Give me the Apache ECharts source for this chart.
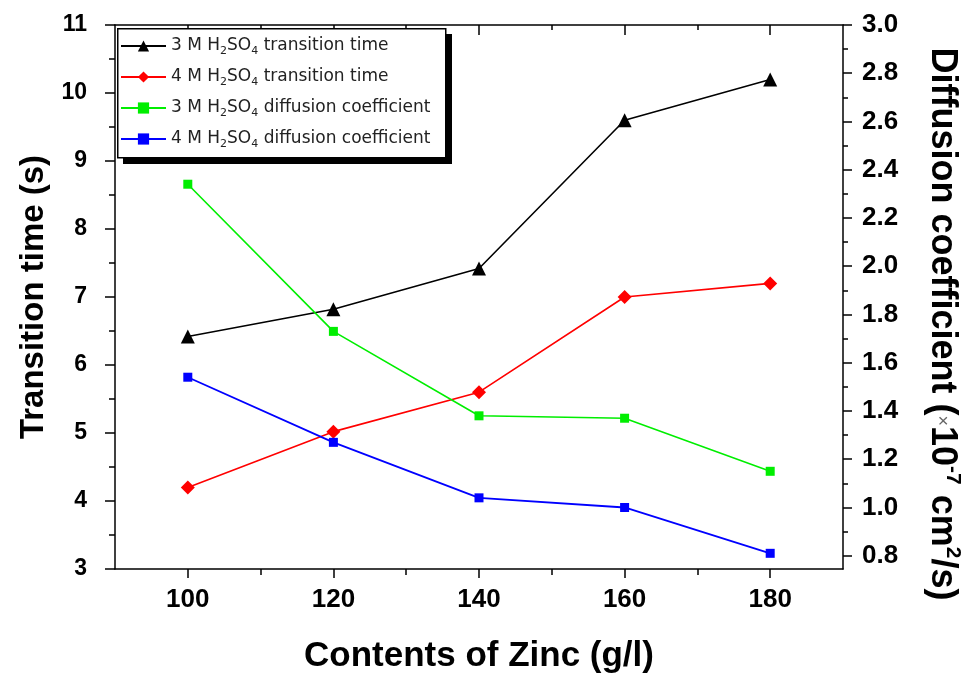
<!DOCTYPE html>
<html>
<head>
<meta charset="utf-8">
<script src="https://cdn.jsdelivr.net/npm/echarts@6/dist/echarts.min.js"></script>
<style>
  html, body { margin: 0; padding: 0; background: #fff; }
  #chart { width: 971px; height: 679px; }
</style>
</head>
<body>
<div id="chart"></div>
<script>
// Zinc content (g/l)
const zinc = [100, 120, 140, 160, 180];
// transition time (s), left axis
const time3M = [6.42, 6.82, 7.42, 9.6, 10.2];
const time4M = [4.2, 5.02, 5.6, 7.0, 7.2];
// diffusion coefficient (x10^-7 cm2/s), right axis
const diff3M = [2.34, 1.73, 1.38, 1.37, 1.15];
const diff4M = [1.54, 1.27, 1.04, 1.0, 0.81];

const xMajor = [100, 120, 140, 160, 180];
const xMinor = [110, 130, 150, 170];
const leftMinor = [3.5, 4.5, 5.5, 6.5, 7.5, 8.5, 9.5, 10.5];
const rightMajor = [0.8, 1.0, 1.2, 1.4, 1.6, 1.8, 2.0, 2.2, 2.4, 2.6, 2.8, 3.0];
const rightMinor = [0.9, 1.1, 1.3, 1.5, 1.7, 1.9, 2.1, 2.3, 2.5, 2.7, 2.9];

const FONT = "Liberation Sans, Arial, sans-serif";
const pairs = (ys) => zinc.map((x, i) => [x, ys[i]]);

const chart = echarts.init(document.getElementById("chart"), null, { renderer: "canvas" });

const axisLine = { show: true, lineStyle: { color: "#000", width: 1.5 } };
const tickStyle = { color: "#000", width: 1.5 };

// extra axes that only carry minor ticks
function minorAxis(base, values, length, inside) {
    return Object.assign({}, base, {
        axisLine: { show: false },
        axisLabel: { show: false },
        splitLine: { show: false },
        name: "",
        axisTick: { show: true, inside: !!inside, length: length, lineStyle: tickStyle, customValues: values },
    });
}

const xBase = { type: "value", min: 90, max: 190 };
const leftBase = { type: "value", min: 3, max: 11, position: "left" };
const rightBase = { type: "value", min: 0.745, max: 3.0, position: "right" };

const option = {
    backgroundColor: "#fff",
    animation: false,
    grid: { left: 115, right: 121, top: 25, bottom: 108, containLabel: false },

    // legend frame with the solid drop shadow (Origin style)
    graphic: [
        { type: "rect", left: 123, top: 34, z: 1, shape: { width: 329, height: 130 }, style: { fill: "#000" } },
        { type: "rect", left: 117, top: 28, z: 2, shape: { width: 328, height: 129 }, style: { fill: "#fff", stroke: "#000", lineWidth: 1.5 } },
    ],

    legend: {
        orient: "vertical",
        left: 117,
        top: 28,
        z: 10,
        padding: [7, 6, 10, 3],
        itemWidth: 45,
        itemHeight: 14,
        itemGap: 9,
        data: [
            "3 M H2SO4 transition time",
            "4 M H2SO4 transition time",
            "3 M H2SO4 diffusion coefficient",
            "4 M H2SO4 diffusion coefficient",
        ],
        formatter: (name) => name.replace("H2SO4", "H{s|2}SO{s|4}"),
        textStyle: {
            fontFamily: "DejaVu Sans, sans-serif",
            fontSize: 17,
            color: "#222",
            lineHeight: 22,
            rich: {
                s: { fontFamily: "DejaVu Sans, sans-serif", fontSize: 11, color: "#222", lineHeight: 10, verticalAlign: "bottom" },
            },
        },
    },

    xAxis: [
        Object.assign({}, xBase, {
            position: "bottom",
            name: "Contents of Zinc (g/l)",
            nameLocation: "middle",
            nameGap: 70,
            nameTextStyle: { fontFamily: FONT, fontWeight: "bold", fontSize: 35, color: "#000" },
            axisLine: axisLine,
            axisTick: { show: true, length: 9, lineStyle: tickStyle, customValues: xMajor },
            axisLabel: {
                customValues: xMajor,
                margin: 18,
                fontFamily: FONT,
                fontWeight: "bold",
                fontSize: 26,
                color: "#000",
            },
            splitLine: { show: false },
        }),
        minorAxis(Object.assign({}, xBase, { position: "bottom" }), xMinor, 6, false),
        Object.assign({}, xBase, {
            position: "top",
            axisLine: axisLine,
            axisLabel: { show: false },
            splitLine: { show: false },
            axisTick: { show: true, inside: true, length: 10, lineStyle: tickStyle, customValues: xMajor },
        }),
        minorAxis(Object.assign({}, xBase, { position: "top" }), xMinor, 5, true),
    ],

    yAxis: [
        Object.assign({}, leftBase, {
            interval: 1,
            name: "Transition time (s)",
            nameLocation: "middle",
            nameRotate: 90,
            nameGap: 59,
            nameTextStyle: { fontFamily: FONT, fontWeight: "bold", fontSize: 33, color: "#000" },
            axisLine: axisLine,
            axisTick: { show: true, length: 10, lineStyle: tickStyle },
            axisLabel: { margin: 28, fontFamily: FONT, fontWeight: "bold", fontSize: 23, color: "#000" },
            splitLine: { show: false },
        }),
        Object.assign({}, rightBase, {
            name: "{a|Diffusion coefficient (}{x|×}{a|10}{u|-7}{a| cm}{u|2}{a|/s)}",
            nameLocation: "middle",
            nameRotate: -90,
            nameGap: 78,
            nameTextStyle: {
                padding: [0, 0, 0, 54],
                rich: {
                    a: { fontFamily: FONT, fontWeight: "bold", fontSize: 36, color: "#000", lineHeight: 42 },
                    x: { fontFamily: FONT, fontSize: 18, color: "#666", lineHeight: 42 },
                    u: { fontFamily: FONT, fontWeight: "bold", fontSize: 21, color: "#000", lineHeight: 22, verticalAlign: "top" },
                },
            },
            axisLine: axisLine,
            axisTick: { show: true, length: 9, lineStyle: tickStyle, customValues: rightMajor },
            axisLabel: {
                customValues: rightMajor,
                margin: 19,
                formatter: (v) => v.toFixed(1),
                fontFamily: FONT,
                fontWeight: "bold",
                fontSize: 26,
                color: "#000",
            },
            splitLine: { show: false },
        }),
        minorAxis(leftBase, leftMinor, 6, false),
        minorAxis(rightBase, rightMinor, 5, false),
    ],

    series: [
        {
            name: "3 M H2SO4 transition time",
            type: "line",
            xAxisIndex: 0,
            yAxisIndex: 0,
            data: pairs(time3M),
            symbol: "triangle",
            symbolSize: 14,
            lineStyle: { color: "#000", width: 1.6 },
            itemStyle: { color: "#000" },
        },
        {
            name: "4 M H2SO4 transition time",
            type: "line",
            xAxisIndex: 0,
            yAxisIndex: 0,
            data: pairs(time4M),
            symbol: "diamond",
            symbolSize: 14,
            lineStyle: { color: "#ff0000", width: 1.6 },
            itemStyle: { color: "#ff0000" },
        },
        {
            name: "3 M H2SO4 diffusion coefficient",
            type: "line",
            xAxisIndex: 0,
            yAxisIndex: 1,
            data: pairs(diff3M),
            symbol: "rect",
            symbolSize: 9,
            lineStyle: { color: "#00ee00", width: 1.6 },
            itemStyle: { color: "#00ee00" },
        },
        {
            name: "4 M H2SO4 diffusion coefficient",
            type: "line",
            xAxisIndex: 0,
            yAxisIndex: 1,
            data: pairs(diff4M),
            symbol: "rect",
            symbolSize: 9,
            lineStyle: { color: "#0000ff", width: 1.8 },
            itemStyle: { color: "#0000ff" },
        },
    ],
};

chart.setOption(option);
</script>
</body>
</html>
